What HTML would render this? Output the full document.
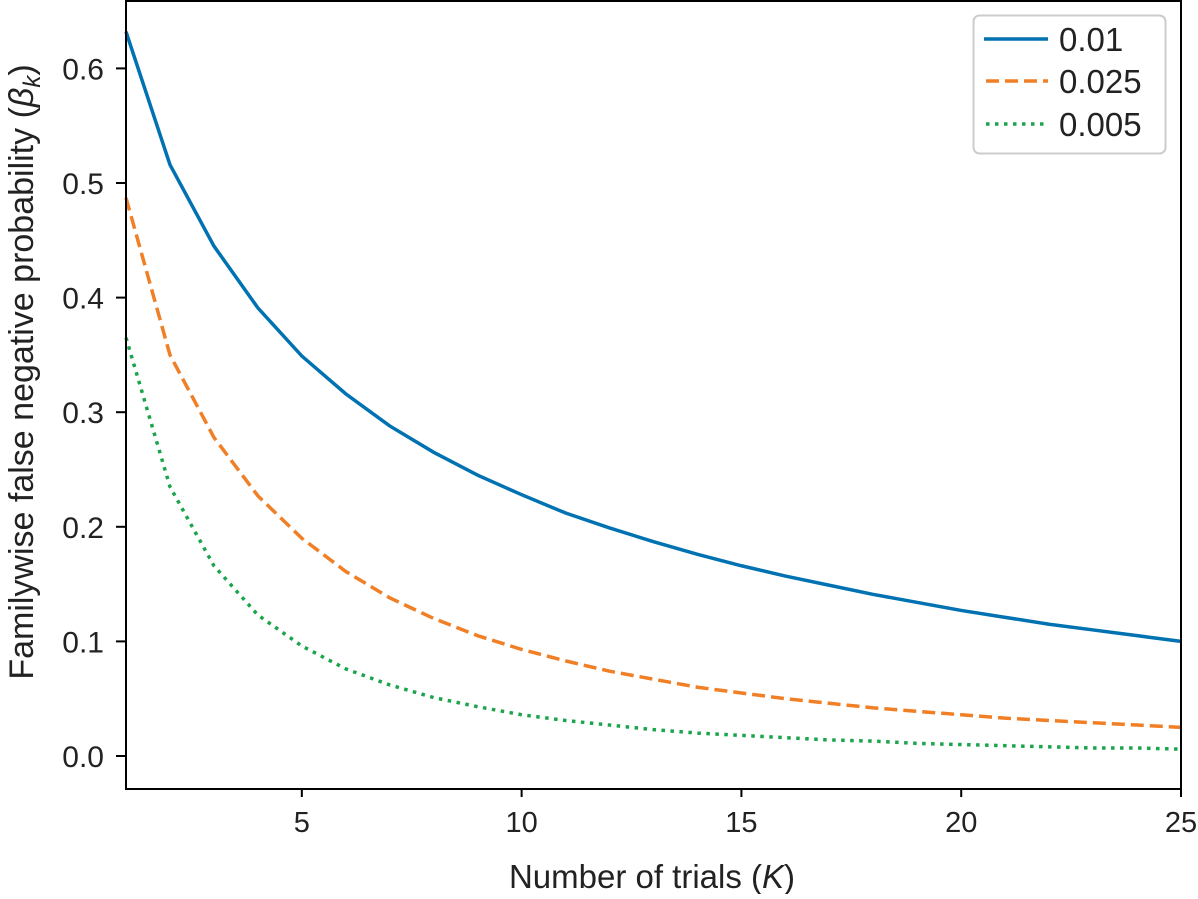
<!DOCTYPE html>
<html><head><meta charset="utf-8"><style>
body{margin:0;background:#fff}
svg text{font-family:"Liberation Sans",sans-serif;fill:#222}
</style></head><body>
<svg width="1198" height="894" id="c">
<g id="plot"></g>
<text x="652" y="888" font-size="33" text-anchor="middle">Number of trials (<tspan font-style="italic">K</tspan>)</text>
<text transform="translate(33,372) rotate(-90)" font-size="34" text-anchor="middle">Familywise false negative probability (<tspan font-style="italic">β</tspan><tspan font-style="italic" font-size="24" dy="7">k</tspan><tspan dy="-7">)</tspan></text>
<g>
<rect x="973.5" y="15.5" width="192" height="138" rx="6" fill="#fff" stroke="#ccc" stroke-width="2"/>
<line x1="984" y1="39" x2="1048" y2="39" stroke="#0072b2" stroke-width="3.5"/>
<text x="1059" y="51" font-size="33">0.01</text>
<line x1="986" y1="81" x2="1048" y2="81" stroke="#f07f26" stroke-width="3.5" stroke-dasharray="13,6"/>
<text x="1059" y="93" font-size="33">0.025</text>
<line x1="986" y1="124" x2="1048" y2="124" stroke="#1aa44b" stroke-width="3.5" stroke-dasharray="3.5,5.5"/>
<text x="1059" y="136" font-size="33">0.005</text>
</g>
</svg>
<script>
const K=[1,2,3,4,5,6,7,8,9,10,11,12,13,14,15,16,17,18,19,20,21,22,23,24,25];
const s001=[.632,.516,.445,.391,.349,.316,.288,.265,.245,.228,.212,.199,.187,.176,.166,.157,.149,.141,.134,.127,.121,.115,.110,.105,.100];
const s0025=[.487,.35,.278,.227,.19,.161,.138,.12,.105,.093,.083,.074,.067,.060,.055,.050,.046,.042,.039,.036,.033,.031,.029,.027,.025];
const s0005=[.365,.235,.166,.123,.096,.076,.062,.051,.043,.036,.031,.027,.023,.020,.018,.016,.014,.013,.011,.010,.009,.008,.007,.007,.006];
const xTicks=[5,10,15,20,25];
const yTicks=[0,0.1,0.2,0.3,0.4,0.5,0.6];
const yTickLabels=["0.0","0.1","0.2","0.3","0.4","0.5","0.6"];
const L=126,R=1181,T=1,B=789;
const xs=v=>L+(v-1)*(R-L)/24;
const ys=v=>756-v*1146;
const ns="http://www.w3.org/2000/svg",g=document.getElementById('plot');
function mk(t,a){const e=document.createElementNS(ns,t);for(const k in a)e.setAttribute(k,a[k]);g.appendChild(e);return e;}
const series=[[s001,'#0072b2','','line-0.01'],[s0025,'#f07f26','13,6','line-0.025'],[s0005,'#1aa44b','3.5,5.5','line-0.005']];
series.forEach(([d,c,da,n])=>{
const p=mk('polyline',{points:d.map((v,i)=>xs(K[i])+','+ys(v)).join(' '),fill:'none',stroke:c,'stroke-width':3.5,'stroke-dasharray':da});


});
const fr=mk('rect',{x:L,y:T,width:R-L,height:B-T,fill:'none',stroke:'#000','stroke-width':2});


xTicks.forEach(v=>{
const x=xs(v);
mk('line',{x1:x,y1:B,x2:x,y2:B+8,stroke:'#000','stroke-width':2});
const t=mk('text',{x:x,y:B+43,'font-size':29,'text-anchor':'middle'});t.textContent=v;


});
yTicks.forEach((v,i)=>{
const y=ys(v);
mk('line',{x1:L-10,y1:y,x2:L,y2:y,stroke:'#000','stroke-width':2});
const t=mk('text',{x:L-22,y:y+11,'font-size':30,'text-anchor':'end'});t.textContent=yTickLabels[i];


});
</script>
</body></html>
